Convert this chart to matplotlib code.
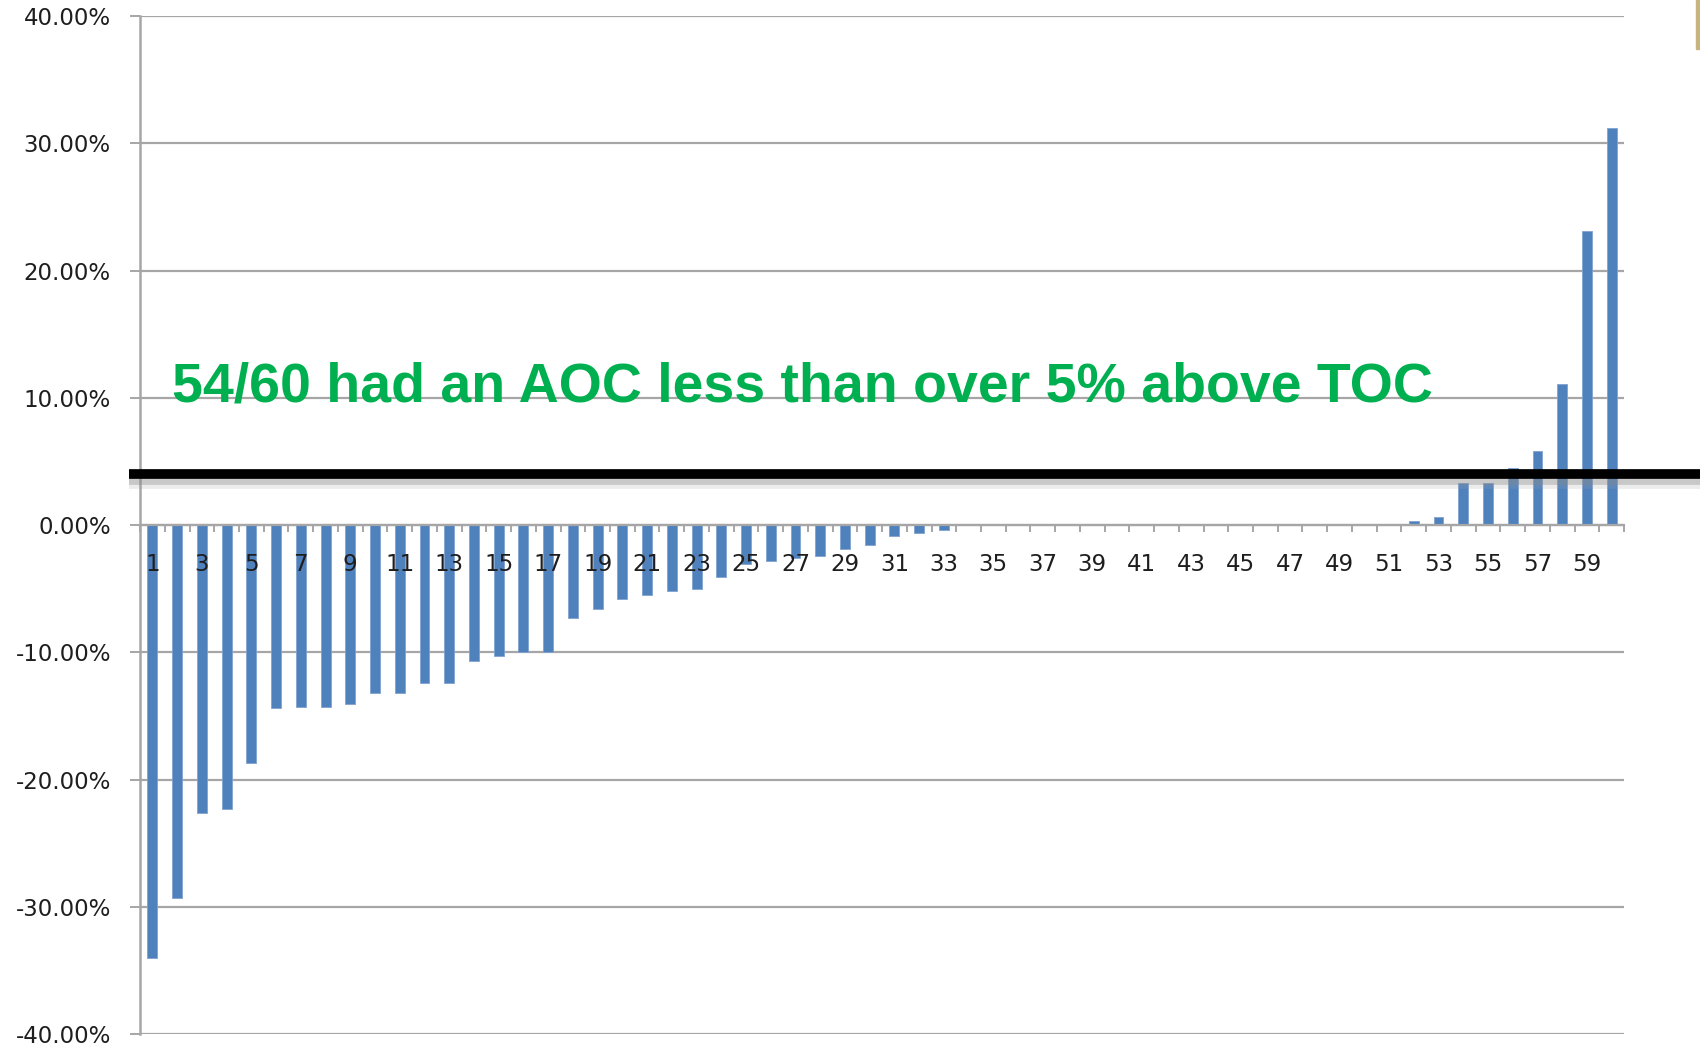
import matplotlib.pyplot as plt
import matplotlib.patheffects as pe
from matplotlib.patches import Rectangle
from matplotlib.ticker import FuncFormatter


# percent difference per case, sorted
cases = list(range(1, 61))
diff_pct = [
    -34.0, -29.3, -22.6, -22.3, -18.7, -14.4, -14.3, -14.3, -14.1, -13.2,
    -13.2, -12.4, -12.4, -10.7, -10.3, -10.0, -10.0, -7.3, -6.6, -5.8,
    -5.5, -5.2, -5.0, -4.1, -3.1, -2.8, -2.6, -2.4, -1.9, -1.6,
    -0.84, -0.65, -0.4, 0, 0, 0, 0, 0, 0, 0,
    0, 0, 0, 0, 0, 0, 0, 0, 0, 0,
    0, 0.3, 0.65, 3.3, 3.3, 4.5, 5.8, 11.1, 23.1, 31.2,
]
y_ticks = [-40, -30, -20, -10, 0, 10, 20, 30, 40]
x_labels = list(range(1, 60, 2))
threshold = 4.0
note = '54/60 had an AOC less than over 5% above TOC'

bar_color = '#4F81BD'
grid_color = '#A6A6A6'
text_color = '#00B050'

fig = plt.figure(figsize=(17, 10.47), dpi=100)
ax = fig.add_axes([0.0824, 0.0124, 0.8729, 0.9723])

for y in y_ticks:
    ax.axhline(y, color=grid_color, lw=1.6, zorder=0.5)

ax.bar(cases, diff_pct, width=0.4, color=bar_color, edgecolor='#7FA3D1',
       linewidth=0.6, zorder=1)

ax.set_xlim(0.5, 60.5)
ax.set_ylim(-40, 40)

for side in ['top', 'right']:
    ax.spines[side].set_visible(False)
ax.spines['left'].set_color(grid_color)
ax.spines['left'].set_linewidth(1.8)
ax.spines['bottom'].set_position(('data', 0))
ax.spines['bottom'].set_color(grid_color)
ax.spines['bottom'].set_linewidth(1.6)

ax.set_yticks(y_ticks)
ax.yaxis.set_major_formatter(FuncFormatter(lambda v, p: f'{v:.2f}%'))
ax.tick_params(axis='y', length=7, width=1.4, color=grid_color, pad=14,
               labelsize=16.5, labelcolor='#1E1E1E')

ax.set_xticks(x_labels)
ax.set_xticklabels([str(v) for v in x_labels])
ax.set_xticks([v + 0.5 for v in range(0, 61)], minor=True)
ax.tick_params(axis='x', which='major', length=0, pad=20, labelsize=16.5,
               labelcolor='#1E1E1E')
ax.tick_params(axis='x', which='minor', length=5, width=1.4, color=grid_color)
ax.xaxis.set_zorder(3)

# thick threshold line running past the plot edge, with a soft shadow
ax.plot([-0.0072, 1.06], [threshold, threshold], transform=ax.get_yaxis_transform(),
        color='black', lw=7, solid_capstyle='butt', clip_on=False, zorder=4,
        path_effects=[pe.SimpleLineShadow(offset=(0, -4), shadow_color='#808080', alpha=0.35),
                      pe.SimpleLineShadow(offset=(0, -7), shadow_color='#a0a0a0', alpha=0.2),
                      pe.Normal()])

fig.text(0.101, 0.617, note, color=text_color, fontsize=40, fontweight='bold',
         family='Liberation Sans', va='baseline', ha='left', zorder=5)

fig.patches.append(Rectangle((0.9976, 0.953), 0.0024, 0.047, transform=fig.transFigure,
                             color='#C8B47E', zorder=0))

fig.savefig('out.png', dpi=100)
